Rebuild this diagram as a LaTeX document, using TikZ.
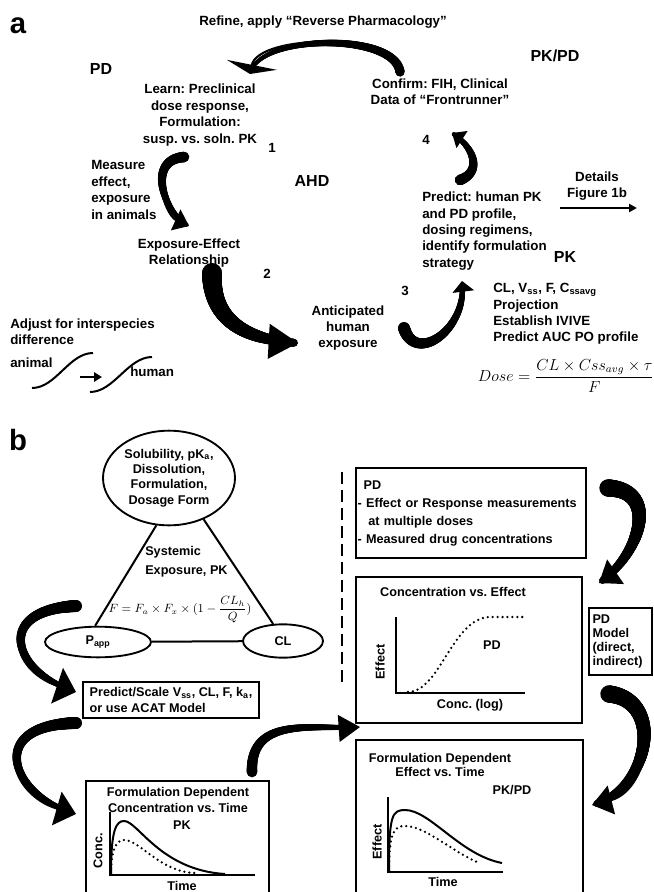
\documentclass[tikz,border=0pt]{standalone}
\usepackage{amsmath}
\usepackage{fontspec}
\setmainfont{Liberation Sans}
\frenchspacing
\usetikzlibrary{arrows.meta,shapes.geometric,decorations.markings,positioning}

\tikzset{
  txt/.style={font=\fontsize{10}{12.3}\selectfont\bfseries, inner sep=0pt},
  tag/.style={font=\fontsize{12}{14}\selectfont\bfseries, inner sep=0pt},
  panel/.style={font=\fontsize{22}{22}\selectfont\bfseries, inner sep=0pt},
  small/.style={font=\fontsize{9.5}{11.4}\selectfont\bfseries, inner sep=0pt},
  box/.style={draw, line width=1.6pt},
  oval/.style={ellipse, draw, line width=1.4pt, inner sep=0pt},
  side/.style={line width=1.5pt},
  axis/.style={line width=1.6pt},
  trace/.style={line width=1.5pt},
  dots/.style={line width=1.9pt, line cap=round, dash pattern=on 0pt off 3.7pt},
  divider/.style={line width=1.9pt, dash pattern=on 9pt off 4.5pt},
  pointer/.style={line width=1.5pt, -{Triangle[width=6pt,length=6pt]}},
  % tapered block arrow: tail width, head width, head length (pt)
  swoosh/.style n args={3}{line width=1.6pt, -{Triangle[width=#2pt,length=#3pt]},
    postaction={decorate, decoration={markings,
      mark=between positions 0 and 0.97 step 0.4pt with {%
        \pgfmathsetmacro\swr{#1/2*(1-0.62*\pgfkeysvalueof{/pgf/decoration/mark info/distance from start}/\pgfdecoratedpathlength)}%
        \fill (0pt,0pt) circle[radius=\swr pt];}}}}
}

\begin{document}
\begin{tikzpicture}[x=0.75pt, y=-0.75pt]
  \useasboundingbox (0,0) rectangle (653,892);
  % panel a
  \begin{scope}
    \node[panel] (pa) at (18,26) {a};
    \node[txt] (refine) at (323,22) {Refine, apply “Reverse Pharmacology”};
    \node[tag] (tpd) at (101,69) {PD};
    \node[tag] (tpkpd) at (555,56) {PK/PD};
    \node[tag] (tahd) at (312,181) {AHD};
    \node[tag] (tpk) at (565,257) {PK};
    \node[txt, align=center] (learn) at (200,115) {Learn: Preclinical\\dose response,\\Formulation:\\susp. vs. soln. PK};
    \node[txt] (n1) at (272,148) {1};
    \node[txt, align=left, anchor=west] (measure) at (91,190) {Measure\\effect,\\exposure\\in animals};
    \node[txt, align=center] (expeff) at (189,253) {Exposure-Effect\\Relationship};
    \node[txt] (n2) at (267,274) {2};
    \node[txt, align=center] (antic) at (348,328) {Anticipated\\human\\exposure};
    \node[txt] (n3) at (405,291) {3};
    \node[txt, align=left, anchor=west] (predict) at (422,231) {Predict: human PK\\and PD profile,\\dosing regimens,\\identify formulation\\strategy};
    \node[txt] (n4) at (426,140) {4};
    \node[txt, align=center] (confirm) at (440,92) {Confirm: FIH, Clinical\\Data of “Frontrunner”};
    \node[txt, align=center] (details) at (597,186) {Details\\Figure 1b};
    \node[txt, align=left, anchor=west] (params) at (493,314) {CL, V\textsubscript{ss}, F, C\textsubscript{ssavg}\\Projection\\Establish IVIVE\\Predict AUC PO profile};
    \node[font=\fontsize{12}{14}\selectfont, inner sep=0pt] (dose) at (566,376) {$Dose=\dfrac{CL\times Css_{avg}\times\tau}{F}$};
    \node[txt, align=left, anchor=west] (adjust) at (10,332) {Adjust for interspecies\\difference};
    \node[txt, anchor=west] (animal) at (10,363) {animal};
    \node[txt, anchor=west] (human) at (130,372) {human};

    \coordinate (da) at (560,208);
    \coordinate (db) at (637,208);
    \draw[pointer] (da) -- (db);

    \coordinate (s1a) at (32,388);
    \coordinate (s1b) at (93,353);
    \coordinate (ia) at (80,377);
    \coordinate (ib) at (102,377);
    \coordinate (s2a) at (90,392);
    \coordinate (s2b) at (152,357);
    \draw[trace] (s1a) .. controls +(24,0) and +(-24,0) .. (s1b);
    \draw[line width=2.2pt, -{Triangle[width=7pt,length=6pt]}] (ia) -- (ib);
    \draw[trace] (s2a) .. controls +(24,0) and +(-24,0) .. (s2b);

    \coordinate (a0s) at (400,72);  \coordinate (a0e) at (250,74);
    \coordinate (a1s) at (184,157); \coordinate (a1e) at (189,226);
    \coordinate (a2s) at (212,273); \coordinate (a2e) at (298,343);
    \coordinate (a3s) at (404,328); \coordinate (a3e) at (462,281);
    \coordinate (a4s) at (460,180); \coordinate (a4e) at (452,133);
    \draw[swoosh={7}{38}{7}] (a0s) .. controls +(-5,-40) and +(8,-40) .. (a0e);
    \draw[swoosh={8}{17}{11}] (a1s) .. controls +(-39,3) and +(-24,-11) .. (a1e);
    \draw[swoosh={15}{26}{22}] (a2s) .. controls +(-1,47) and +(-53,-3) .. (a2e);
    \draw[swoosh={9}{16}{8}] (a3s) .. controls +(11,37) and +(6,49) .. (a3e);
    \draw[swoosh={8}{15}{9}] (a4s) .. controls +(22,-8) and +(23,15) .. (a4e);
  \end{scope}

  % panel b
  \begin{scope}
    \node[panel] (pb) at (18,440) {b};
    \node[oval, small, align=center, minimum width=99pt, minimum height=71pt] (sol) at (169,478) {Solubility, pK\textsubscript{a},\\Dissolution,\\Formulation,\\Dosage Form};
    \node[oval, small, minimum width=79.5pt, minimum height=23pt] (papp) at (98,642) {P\textsubscript{app}};
    \node[oval, small, minimum width=60pt, minimum height=25pt] (cl) at (283,641) {CL};
    \draw[side] (sol.255) -- (papp.100);
    \draw[side] (sol.310) -- (cl.120);
    \draw[side] (papp) -- (cl);
    \node[small, font=\fontsize{9.5}{14}\selectfont\bfseries, align=left, anchor=west] (sysexp) at (145,562) {Systemic\\Exposure, PK};
    \node[font=\fontsize{9}{11}\selectfont, inner sep=0pt] (fform) at (180,610) {$F=F_a\times F_x\times(1-\dfrac{CL_h}{Q})$};

    \node[box, small, align=left, inner sep=0pt, minimum width=132pt, minimum height=27pt] (predbox) at (171,700) {Predict/Scale V\textsubscript{ss}, CL, F, k\textsubscript{a},\\or use ACAT Model};

    \node[box, minimum width=137pt, minimum height=90pt] (pkbox) at (177.5,841) {};
    \node[small, align=center] (pktitle) at (178,800) {Formulation Dependent\\Concentration vs. Time};
    \node[small] (pklab) at (182,825) {PK};
    \draw[axis] (110,812) |- (255,875);
    \node[small, rotate=90] (pkconc) at (98,851) {Conc.};
    \node[small] (pktime) at (182,886) {Time};
    \draw[trace] (111,874) .. controls (111,830) and (116,821) .. (124,821) .. controls (138,821) and (160,870) .. (225,874);
    \draw[dots] (111,874) .. controls (111,848) and (117,840) .. (124,840) .. controls (140,840) and (160,872) .. (195,873);

    \coordinate (dv1) at (342,472);
    \coordinate (dv2) at (342,682);
    \draw[divider] (dv1) -- (dv2);

    \node[box, small, font=\fontsize{9.5}{13.5}\selectfont\bfseries, align=left, text width=170pt, inner xsep=1pt, inner ysep=0pt, minimum height=67.5pt] (pdbox) at (471,513) {\hspace*{4.5pt}PD\\- Effect or Response measurements\\\hspace*{8pt}at multiple doses\\- Measured drug concentrations};

    \node[box, minimum width=169.5pt, minimum height=109.5pt] (cebox) at (469,650) {};
    \node[small] (cetitle) at (453,592) {Concentration vs. Effect};
    \draw[axis] (396,617) |- (525,693);
    \node[small, rotate=90] (ceeff) at (380,662) {Effect};
    \node[small] (ceconc) at (470,705) {Conc. (log)};
    \node[small] (cepd) at (492,645) {PD};
    \draw[dots] (408,692) .. controls (440,692) and (452,618) .. (490,617) -- (524,617);

    \node[box, small, font=\fontsize{9.5}{10.7}\selectfont\bfseries, align=left, text width=42pt, inner xsep=2.5pt, inner ysep=0pt, minimum height=50pt] (pdmodel) at (620.5,641.5) {PD\\Model\\(direct,\\indirect)};

    \node[box, minimum width=170pt, minimum height=121.5pt] (pkpdbox) at (469.5,821) {};
    \node[small, font=\fontsize{9.5}{10.5}\selectfont\bfseries, align=center] (pkpdtitle) at (440,765) {Formulation Dependent\\Effect vs. Time};
    \node[small] (pkpdlab) at (512,790) {PK/PD};
    \draw[axis] (388,797) |- (503,872);
    \node[small, rotate=90] (pkpdeff) at (377,842) {Effect};
    \node[small] (pkpdtime) at (443,882) {Time};
    \draw[trace] (389,871) .. controls (389,815) and (392,810) .. (405,810) .. controls (430,810) and (460,855) .. (502,863);
    \draw[dots] (389,871) .. controls (389,830) and (395,826) .. (405,826) .. controls (425,826) and (450,850) .. (477,862);

    \coordinate (b1s) at (76,606);  \coordinate (b1e) at (76,692);
    \coordinate (b2s) at (76,723);  \coordinate (b2e) at (76,814);
    \coordinate (b3s) at (252,772); \coordinate (b3e) at (360,727);
    \coordinate (b4s) at (608,488); \coordinate (b4e) at (599,583);
    \coordinate (b5s) at (609,694); \coordinate (b5e) at (592,805);
    \draw[swoosh={9}{28}{15}] (b1s) .. controls +(-81,4) and +(-66,-22) .. (b1e);
    \draw[swoosh={9}{26}{15}] (b2s) .. controls +(-91,2) and +(-66,-19) .. (b2e);
    \draw[swoosh={8}{20}{16}] (b3s) .. controls +(-2,-57) and +(-45,3) .. (b3e);
    \draw[swoosh={13}{22}{15}] (b4s) .. controls +(52,2) and +(41,-28) .. (b4e);
    \draw[swoosh={13}{22}{15}] (b5s) .. controls +(56,6) and +(58,-15) .. (b5e);
  \end{scope}
\end{tikzpicture}
\end{document}
